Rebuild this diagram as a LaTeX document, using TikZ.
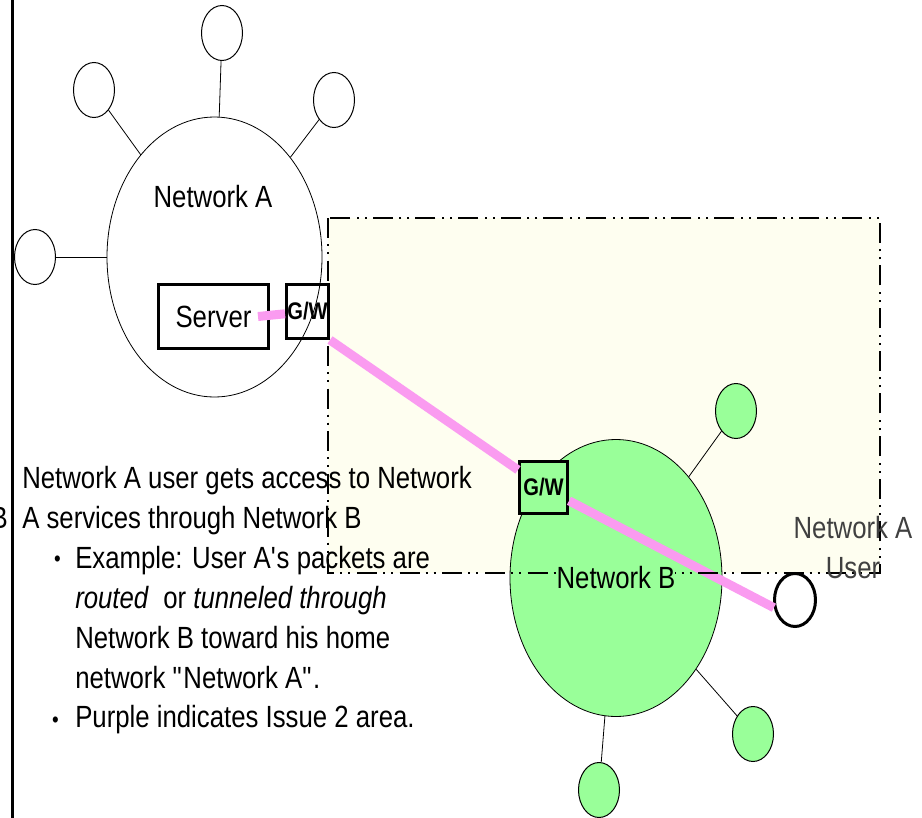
\documentclass[tikz,border=0pt]{standalone}
\usepackage{fontspec}
\setmainfont{Liberation Sans}[FakeStretch=0.84]
\usepackage{xcolor}
\usetikzlibrary{positioning}
\usetikzlibrary{shapes.geometric}
\definecolor{netgreen}{RGB}{153,255,153}
\definecolor{issuepink}{RGB}{250,155,240}
\definecolor{areafill}{RGB}{254,254,240}

\begin{document}
\begin{tikzpicture}[x=0.75pt, y=-0.75pt,
		txt/.style={inner sep=0pt, font=\fontsize{23}{30}\selectfont, align=left},
		net/.style={ellipse, draw, line width=0.6pt, inner sep=0pt},
		host/.style={ellipse, draw, line width=0.75pt, fill=white, minimum width=30.75pt, minimum height=41.25pt, inner sep=0pt},
		gwbox/.style={draw, line width=2.25pt, inner sep=0pt, font=\bfseries\fontsize{18}{18}\selectfont},
		link/.style={line width=0.6pt},
		issue/.style={issuepink, line width=6.75pt},
		bullet/.style={inner sep=0pt, font=\fontsize{17}{17}\selectfont}]
				\useasboundingbox (0,0) rectangle (922,818);
				% shaded area
				\coordinate (areaNW) at (328,218);
				\coordinate (areaSE) at (880,573);
				\fill[areafill] (areaNW) rectangle (areaSE);
				% network A and its hosts
				\node[net, minimum width=161.25pt, minimum height=210pt] (netA) at (214.5,257) {};
				\node[txt] (labA) at (213,197) {Network A};
				\node[host] (a1) at (94,90) {};
				\node[host] (a2) at (222,33) {};
				\node[host] (a3) at (334,100) {};
				\node[host] (a4) at (35,257) {};
				\foreach \h in {a1,a2,a3,a4}
					\draw[link] (netA) -- (\h);
				% network B and its hosts
				\node[net, fill=netgreen, minimum width=159pt, minimum height=207.75pt] (netB) at (616,578) {};
				\node[host, fill=netgreen] (b1) at (736,411) {};
				\node[host, fill=netgreen] (b2) at (753,734) {};
				\node[host, fill=netgreen] (b3) at (599,790) {};
				\foreach \h in {b1,b2,b3}
					\draw[link] (netB) -- (\h);
				% server, gateways, user
				\node[txt, draw, line width=2.25pt, minimum width=82.5pt, minimum height=48pt] (srv) at (213.5,316.5) {Server};
				\node[gwbox, minimum width=31.5pt, minimum height=40.5pt] (gwA) at (307.5,311.5) {G/W};
				\node[gwbox, fill=netgreen, minimum width=36pt, minimum height=39pt] (gwB) at (543.5,487.5) {G/W};
				\node[host, line width=2.25pt, minimum width=30.75pt, minimum height=39.75pt] (user) at (795,600) {};
				% purple path
				\draw[issue] ([xshift=-9pt]srv.east) -- (gwA);
				\draw[issue] (gwA.south east) -- (gwB);
				\draw[issue] (gwB) -- (user.200);
				% border of the area
				\draw[line width=1.5pt, dash pattern=on 15pt off 4.5pt on 1.5pt off 4.5pt on 1.5pt off 5pt] (areaNW) rectangle (areaSE);
				\node[txt, fill=netgreen] (labB) at (netB) {Network B};
				\node[txt, align=center, text=black!75, anchor=base] (labU) at (853,578) {Network A\\User};
				% frame line and text
				\coordinate (frameT) at (12,0);
				\coordinate (frameB) at (12,818);
				\draw[line width=2.25pt] (frameT) -- (frameB);
				\node[txt, anchor=base east] (cutB) at (8,528) {B};
				\node[txt, anchor=base west] (intro) at (22,528) {Network A user gets access to Network\\A services through Network B};
				\node[txt, anchor=base west] (ex) at (75,688) {Example: User A\textquotesingle s packets are\\\textit{routed}\ \ or \textit{tunneled through}\\Network B toward his home\\network \textquotedbl Network A\textquotedbl .};
				\node[txt, anchor=base west] (pur) at (75,727) {Purple indicates Issue 2 area.};
				\node[bullet, anchor=base east] (bul1) at (61,566) {\textbullet};
				\node[bullet, left=12pt of pur.base west, anchor=base east] (bul2) {\textbullet};
			\end{tikzpicture}
\end{document}
